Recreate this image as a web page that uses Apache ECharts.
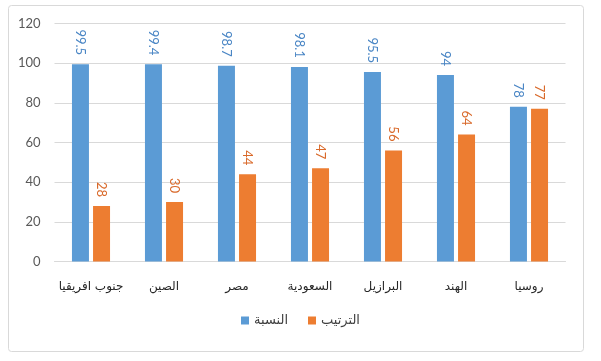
<!DOCTYPE html>
<html><head><meta charset="utf-8">
<script src="https://cdn.jsdelivr.net/npm/echarts@6/dist/echarts.min.js"></script>
<style>html,body{margin:0;padding:0;background:#fff}#c{width:601px;height:361px}</style>
</head><body><div id="c"></div>
<script>
const categories = ['جنوب افريقيا', 'الصين', 'مصر', 'السعودية', 'البرازيل', 'الهند', 'روسيا'];
const ratioValues = [99.5, 99.4, 98.7, 98.1, 95.5, 94, 78];
const rankValues = [28, 30, 44, 47, 56, 64, 77];
const seriesNames = ['النسبة', 'الترتيب'];
const yTicks = {min: 0, max: 120, interval: 20};

const chart = echarts.init(document.getElementById('c'), null, {renderer: 'canvas'});
const lbl = (color) => ({
  show: true, position: 'top', rotate: -90, align: 'right', verticalAlign: 'middle',
  distance: 9, color: color, fontSize: 13, fontFamily: 'Lato, sans-serif'
});
chart.setOption({
  animation: false,
  backgroundColor: '#fff',
  graphic: [{type: 'rect', shape: {x: 8.5, y: 5.5, width: 575, height: 346, r: 3},
    style: {fill: 'none', stroke: '#d9d9d9', lineWidth: 1}, silent: true}],
  grid: {left: 54.5, right: 35.5, top: 23.5, bottom: 99.5, containLabel: false},
  legend: {
    data: seriesNames, bottom: 29, left: 'center', itemWidth: 8, itemHeight: 8, itemGap: 20,
    icon: 'rect', textStyle: {fontSize: 13, color: '#404040', fontFamily: 'DejaVu Sans, sans-serif'}
  },
  xAxis: {
    type: 'category', data: categories,
    axisLine: {lineStyle: {color: '#d9d9d9'}}, axisTick: {show: false},
    axisLabel: {interval: 0, color: '#262626', fontSize: 12, margin: 19, fontFamily: 'DejaVu Sans, sans-serif'}
  },
  yAxis: {
    type: 'value', min: yTicks.min, max: yTicks.max, interval: yTicks.interval,
    axisLine: {show: false}, axisTick: {show: false},
    splitLine: {lineStyle: {color: '#d9d9d9'}},
    axisLabel: {color: '#595959', fontSize: 13, margin: 14, fontFamily: 'Lato, sans-serif'}
  },
  series: [
    {name: seriesNames[0], type: 'bar', data: ratioValues, barWidth: 17, barGap: '24%',
     itemStyle: {color: '#5B9BD5'}, label: lbl('#4a86c5')},
    {name: seriesNames[1], type: 'bar', data: rankValues, barWidth: 17,
     itemStyle: {color: '#ED7D31'}, label: lbl('#d9692a')}
  ]
});
</script></body></html>
